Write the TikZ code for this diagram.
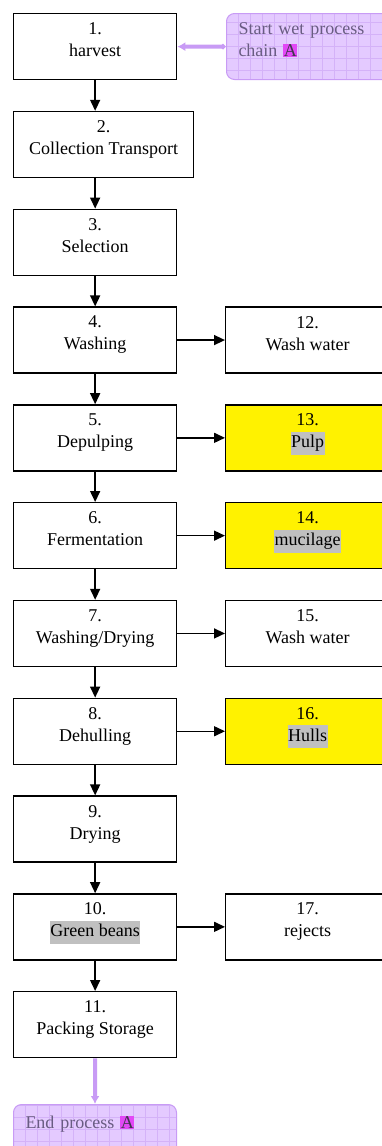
\documentclass[tikz,border=0pt]{standalone}
\usepackage{fontspec}
\setmainfont{Liberation Serif}
\usetikzlibrary{arrows.meta}
\definecolor{lilac}{RGB}{200,155,245}
\definecolor{lilacfill}{RGB}{228,202,255}
\definecolor{lilacgrid}{RGB}{212,178,248}
\definecolor{lilactext}{RGB}{105,92,130}
\definecolor{markA}{RGB}{226,72,246}
\definecolor{hlgray}{RGB}{192,192,192}
\newcommand{\grayhl}[1]{{\setlength{\fboxsep}{0.5pt}\colorbox{hlgray}{\strut #1}}}
\newcommand{\tagA}{{\setlength{\fboxsep}{0.5pt}\colorbox{markA}{\textcolor{lilactext!60!black}{A}}}}
\begin{document}
\begin{tikzpicture}[x=1pt,y=-1pt,
  stepbox/.style={draw,line width=1.3pt,minimum width=163pt,minimum height=66pt,
    anchor=north west,align=center,inner sep=0pt,text depth=14pt,
    font=\fontsize{18}{22}\selectfont},
  outbox/.style={stepbox,minimum width=164pt},
  waste/.style={outbox,fill=yellow},
  flow/.style={line width=1.5pt,-{Triangle[length=11pt,width=10pt]}},
  callout/.style={draw=lilac,fill=lilacfill,line width=1pt,rounded corners=8pt,
    anchor=north west,align=left,inner xsep=12pt,inner ysep=0pt,text=lilactext,
    font=\fontsize{18}{22}\selectfont,
    path picture={\draw[lilacgrid,line width=0.5pt,step=12pt]
      (path picture bounding box.south west) grid (path picture bounding box.north east);}},
  link/.style={lilac,line width=4pt}]
\useasboundingbox (0,0) rectangle (382,1146);
\clip (0,0) rectangle (382,1146);
% main chain
\node[stepbox] (b1) at (13,13) {1.\\harvest};
\node[stepbox,minimum width=180pt] (b2) at (13,110.8) {2.\\Collection Transport};
\node[stepbox] (b3) at (13,208.6) {3.\\Selection};
\node[stepbox] (b4) at (13,306.4) {4.\\Washing};
\node[stepbox] (b5) at (13,404.2) {5.\\Depulping};
\node[stepbox] (b6) at (13,502) {6.\\Fermentation};
\node[stepbox] (b7) at (13,599.8) {7.\\Washing/Drying};
\node[stepbox] (b8) at (13,697.6) {8.\\Dehulling};
\node[stepbox] (b9) at (13,795.4) {9.\\Drying};
\node[stepbox] (b10) at (13,893.2) {10.\\\grayhl{Green beans}};
\node[stepbox] (b11) at (13,991) {11.\\Packing Storage};
% side outputs
\node[outbox] (r12) at (225,306.4) {12.\\Wash water};
\node[waste] (r13) at (225,404.2) {13.\\\grayhl{Pulp}};
\node[waste] (r14) at (225,502) {14.\\\grayhl{mucilage}};
\node[outbox] (r15) at (225,599.8) {15.\\Wash water};
\node[waste] (r16) at (225,697.6) {16.\\\grayhl{Hulls}};
\node[outbox] (r17) at (225,893.2) {17.\\rejects};
% start / end marks
\node[callout,text width=170pt,minimum height=66pt,text depth=36pt] (start) at (226,13)
  {Start wet process\\chain \tagA};
\node[callout,text width=139pt,minimum height=56pt,text depth=20pt] (endp) at (13,1104)
  {End process \tagA};
% arrows
\draw[flow] (b1.south) -- (b1.south |- b2.north);
\draw[flow] (b3.north |- b2.south) -- (b3.north);
\draw[flow] (b3) -- (b4);
\draw[flow] (b4) -- (b5);
\draw[flow] (b5) -- (b6);
\draw[flow] (b6) -- (b7);
\draw[flow] (b7) -- (b8);
\draw[flow] (b8) -- (b9);
\draw[flow] (b9) -- (b10);
\draw[flow] (b10) -- (b11);
\draw[flow] (b4) -- (r12);
\draw[flow] (b5) -- (r13);
\draw[flow] (b6) -- (r14);
\draw[flow] (b7) -- (r15);
\draw[flow] (b8) -- (r16);
\draw[flow] (b10) -- (r17);
\draw[link,{Diamond[length=6pt,width=6pt]}-{Latex[length=8pt,width=9pt]}] (start.west) -- (b1.east);
\draw[link,-{Latex[length=8pt,width=9pt]}] (b11.south) -- (endp.north);
\end{tikzpicture}
\end{document}
